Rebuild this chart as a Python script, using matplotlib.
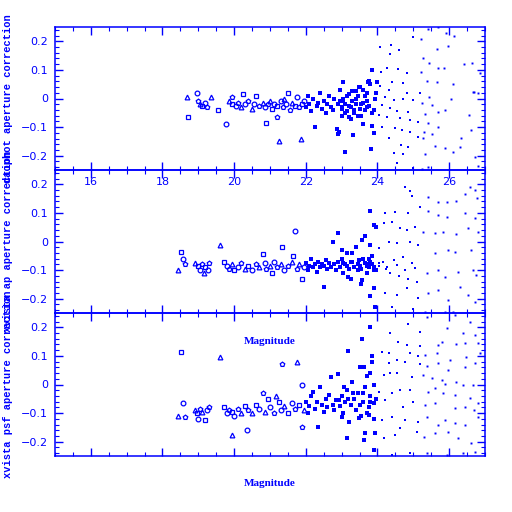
import matplotlib
matplotlib.use("Agg")
import matplotlib.pyplot as plt
from matplotlib.ticker import MultipleLocator

BLUE = (0, 0, 1)

# (magnitude, correction) pairs
top_bright = [(18.67, 0.005), (18.72, -0.065), (18.97, 0.02), (19.0, -0.01), (19.05, -0.02),
              (19.1, -0.025), (19.2, -0.015), (19.25, -0.03), (19.36, 0.005), (19.55, -0.04),
              (19.78, -0.09), (19.94, 0.005), (19.85, -0.01), (19.95, -0.02), (20.05, -0.025),
              (20.1, -0.015), (20.2, -0.03), (20.25, 0.015), (20.3, -0.02), (20.4, -0.01),
              (20.5, -0.035), (20.6, 0.01), (20.55, -0.02), (20.7, -0.025), (20.8, -0.015),
              (20.9, -0.085), (20.85, -0.03), (20.95, -0.02), (21.0, -0.01), (21.05, -0.035),
              (21.1, -0.02), (21.2, -0.065), (21.25, -0.15), (21.2, -0.025), (21.3, -0.01),
              (21.35, -0.03), (21.4, 0.0), (21.5, 0.02), (21.45, -0.02), (21.55, -0.04),
              (21.6, -0.015), (21.7, -0.025), (21.75, 0.005), (21.8, -0.03), (21.86, -0.14),
              (21.9, -0.02), (21.95, -0.01)]
top_mid = [(22.0, -0.03), (22.05, 0.01), (22.1, -0.02), (22.15, -0.045), (22.2, 0.0),
           (22.25, -0.1), (22.3, -0.025), (22.35, -0.015), (22.4, 0.02), (22.45, -0.035),
           (22.5, -0.01), (22.55, -0.05), (22.6, -0.02), (22.65, 0.01), (22.7, -0.03),
           (22.75, -0.04), (22.8, 0.0), (22.86, -0.105), (22.9, -0.125), (22.9, -0.02),
           (22.95, 0.03), (23.03, 0.058), (23.0, -0.035), (23.05, -0.01), (23.1, -0.05),
           (23.15, 0.01), (23.2, -0.025), (23.25, -0.07), (23.3, 0.025), (23.35, -0.04),
           (23.4, 0.0), (23.45, -0.06), (23.5, 0.04), (23.55, -0.02), (23.6, -0.09),
           (23.65, 0.01), (23.7, -0.03), (23.75, 0.06), (23.85, -0.05), (23.95, 0.02),
           (23.6, 0.03), (23.7, -0.01), (23.8, 0.05), (23.9, -0.04), (22.95, -0.01),
           (23.0, -0.03), (23.05, 0.0), (23.1, -0.02), (23.15, -0.045), (23.2, 0.015),
           (23.25, -0.03), (23.3, -0.01), (23.35, -0.05), (23.4, -0.02), (23.45, 0.01),
           (23.5, -0.035), (23.55, -0.06), (23.6, -0.015), (23.65, -0.04), (23.7, 0.02),
           (23.75, -0.025), (23.0, -0.06), (23.2, -0.065), (23.4, 0.025)]
top_faint = [(25.0, 0.216), (25.21, 0.207), (25.42, 0.242), (25.7, 0.249), (25.91, 0.23),
             (26.13, 0.219), (25.65, 0.174), (25.97, 0.184), (24.38, 0.187), (24.07, 0.179),
             (24.61, 0.17), (24.35, 0.155), (25.26, 0.143), (25.44, 0.123), (26.42, 0.121),
             (26.64, 0.125), (23.84, 0.10), (24.1, 0.094), (24.26, 0.105), (24.56, 0.102),
             (24.81, 0.09), (25.21, 0.094), (25.7, 0.105), (25.86, 0.105), (26.85, 0.088),
             (23.73, 0.059), (23.98, 0.059), (24.4, 0.059), (24.72, 0.053), (25.37, 0.061),
             (25.65, 0.059), (26.11, 0.05), (23.47, 0.041), (24.07, 0.044), (24.31, 0.03),
             (24.81, 0.02), (25.19, 0.018), (25.44, 0.004), (26.05, 0.0), (26.67, 0.024),
             (26.81, 0.018), (23.94, 0.0), (24.21, 0.006), (24.45, -0.005), (24.72, 0.0),
             (25.0, -0.005), (25.23, -0.017), (25.51, -0.023), (24.12, -0.023), (24.35, -0.034),
             (24.54, -0.042), (24.86, -0.046), (25.32, -0.054), (25.7, -0.046), (25.88, -0.04),
             (24.03, -0.058), (24.26, -0.063), (24.63, -0.069), (24.91, -0.075), (25.14, -0.081),
             (25.42, -0.087), (25.7, -0.098), (23.84, -0.096), (24.12, -0.098), (24.49, -0.104),
             (24.68, -0.11), (24.91, -0.116), (25.31, -0.116), (25.51, -0.124), (25.14, -0.133),
             (23.89, -0.119), (24.31, -0.139), (24.66, -0.164), (24.86, -0.168), (25.28, -0.139),
             (25.6, -0.166), (25.88, -0.174), (26.32, -0.139), (26.62, -0.11), (26.55, -0.058),
             (26.69, 0.024), (23.81, -0.178), (23.1, -0.186), (24.47, -0.19), (24.55, -0.224),
             (25.32, -0.194), (26.11, -0.186), (26.3, -0.171), (26.71, -0.203), (26.81, -0.236),
             (25.0, -0.244), (25.23, -0.247), (25.42, -0.238), (24.72, -0.195), (23.31, -0.128),
             (22.92, -0.116)]

mid_bright = [(18.44, -0.1), (18.53, -0.035), (18.56, -0.06), (18.64, -0.08), (18.9, -0.075),
              (19.0, -0.085), (19.05, -0.1), (19.1, -0.08), (19.15, -0.11), (19.2, -0.09),
              (19.28, -0.1), (19.3, -0.075), (19.6, -0.012), (19.72, -0.07), (19.8, -0.085),
              (19.85, -0.095), (19.95, -0.08), (20.0, -0.1), (20.1, -0.09), (20.2, -0.075),
              (20.3, -0.095), (20.4, -0.085), (20.5, -0.1), (20.6, -0.08), (20.7, -0.09),
              (20.8, -0.045), (20.85, -0.075), (20.9, -0.095), (21.0, -0.085), (21.05, -0.11),
              (21.1, -0.07), (21.2, -0.09), (21.3, -0.08), (21.33, -0.02), (21.4, -0.1),
              (21.5, -0.085), (21.6, -0.07), (21.64, -0.05), (21.7, 0.035), (21.75, -0.095),
              (21.8, -0.08), (21.9, -0.13), (21.95, -0.09)]
mid_mid = [(22.0, -0.075), (22.05, -0.1), (22.1, -0.085), (22.15, -0.06), (22.2, -0.09),
           (22.25, -0.08), (22.3, -0.105), (22.35, -0.07), (22.4, -0.09), (22.45, -0.08),
           (22.5, -0.16), (22.5, -0.085), (22.55, -0.065), (22.6, -0.095), (22.65, -0.075),
           (22.7, -0.09), (22.75, 0.0), (22.8, -0.08), (22.85, -0.1), (22.9, 0.03),
           (22.9, -0.07), (22.95, -0.09), (23.0, -0.06), (23.05, -0.11), (23.1, -0.08),
           (23.15, -0.04), (23.2, -0.095), (23.25, -0.13), (23.3, -0.07), (23.35, -0.09),
           (23.4, -0.02), (23.45, -0.1), (23.5, -0.085), (23.55, -0.15), (23.6, -0.06),
           (23.65, 0.02), (23.7, -0.11), (23.75, -0.08), (23.8, -0.19), (23.85, -0.05),
           (23.9, -0.1), (23.95, 0.05), (23.7, -0.085), (23.8, -0.07), (23.9, -0.09),
           (23.05, -0.075), (23.15, -0.085), (23.25, -0.07), (23.35, -0.09), (23.45, -0.08),
           (23.55, -0.095), (23.65, -0.075), (23.75, -0.09), (23.85, -0.08), (23.95, -0.1)]
mid_faint = [(24.91, 0.178), (24.97, 0.159), (24.77, 0.189), (25.42, 0.157), (25.7, 0.139),
             (25.93, 0.139), (26.2, 0.143), (26.44, 0.166), (26.57, 0.189), (26.71, 0.18),
             (26.79, 0.151), (25.19, 0.119), (24.86, 0.101), (24.21, 0.098), (24.49, 0.104),
             (23.8, 0.108), (25.42, 0.108), (25.7, 0.093), (25.93, 0.087), (26.44, 0.098),
             (26.71, 0.081), (23.89, 0.058), (24.17, 0.064), (24.4, 0.069), (24.63, 0.046),
             (24.81, 0.04), (25.05, 0.052), (25.28, 0.034), (25.6, 0.029), (25.83, 0.034),
             (26.2, 0.026), (26.53, 0.046), (26.81, 0.034), (23.57, 0.005), (23.8, -0.012),
             (24.03, -0.024), (24.31, 0.0), (24.54, -0.006), (24.91, 0.0), (25.14, -0.012),
             (25.6, -0.041), (25.97, -0.03), (26.16, -0.036), (26.62, -0.03), (23.01, -0.03),
             (23.29, -0.041), (23.47, -0.065), (23.75, -0.062), (24.03, -0.076), (24.26, -0.088),
             (24.54, -0.082), (24.77, -0.1), (25.05, -0.094), (25.37, -0.111), (25.7, -0.1),
             (25.88, -0.123), (26.25, -0.105), (26.67, -0.1), (26.76, -0.117), (23.19, -0.123),
             (23.57, -0.135), (23.89, -0.164), (24.21, -0.181), (24.54, -0.187), (24.81, -0.164),
             (25.14, -0.199), (25.42, -0.181), (25.7, -0.17), (25.97, -0.205), (26.3, -0.158),
             (26.53, -0.187), (26.71, -0.21), (23.94, -0.228), (24.4, -0.228), (25.32, -0.245),
             (25.88, -0.245), (26.11, -0.245), (25.0, -0.237), (24.05, -0.085), (24.15, -0.07),
             (24.25, -0.095), (24.35, -0.11), (24.45, -0.065), (24.6, -0.12), (24.7, -0.055),
             (24.85, -0.13), (24.95, -0.075), (25.1, -0.14)]

bot_bright = [(18.44, -0.11), (18.53, 0.115), (18.56, -0.065), (18.64, -0.115), (18.9, -0.09),
              (18.95, -0.1), (19.0, -0.12), (19.05, -0.085), (19.1, -0.095), (19.2, -0.125),
              (19.25, -0.09), (19.3, -0.08), (19.6, 0.095), (19.72, -0.08), (19.8, -0.1),
              (19.85, -0.09), (19.94, -0.175), (19.95, -0.095), (20.0, -0.11), (20.1, -0.085),
              (20.2, -0.1), (20.3, -0.075), (20.36, -0.16), (20.4, -0.09), (20.5, -0.1),
              (20.6, -0.07), (20.7, -0.085), (20.8, -0.03), (20.85, -0.095), (20.95, -0.05),
              (21.0, -0.08), (21.1, -0.1), (21.17, -0.04), (21.25, -0.06), (21.3, -0.09),
              (21.33, 0.07), (21.4, -0.075), (21.5, -0.1), (21.6, -0.065), (21.7, -0.085),
              (21.75, 0.08), (21.8, -0.07), (21.9, 0.0), (21.9, -0.15), (21.95, -0.09)]
bot_mid = [(22.0, -0.06), (22.05, -0.1), (22.1, -0.075), (22.15, -0.04), (22.2, -0.025),
           (22.25, -0.085), (22.3, -0.06), (22.35, -0.15), (22.4, -0.01), (22.45, -0.07),
           (22.5, -0.095), (22.55, -0.05), (22.6, -0.08), (22.65, -0.035), (22.7, 0.025),
           (22.75, -0.07), (22.8, -0.09), (22.85, -0.055), (22.9, 0.035), (22.95, -0.075),
           (23.0, -0.04), (23.05, -0.1), (23.1, -0.06), (23.15, -0.02), (23.2, -0.13),
           (23.25, -0.07), (23.3, 0.01), (23.35, -0.05), (23.4, -0.09), (23.45, -0.03),
           (23.5, 0.06), (23.55, -0.11), (23.6, -0.06), (23.65, -0.17), (23.7, 0.03),
           (23.75, -0.08), (23.8, -0.04), (23.85, 0.1), (23.9, -0.12), (23.95, -0.05),
           (23.6, -0.03), (23.7, -0.1), (23.8, -0.06), (23.9, 0.0)]
bot_faint = [(23.8, 0.2), (24.35, 0.179), (24.86, 0.212), (25.19, 0.185), (25.37, 0.237),
             (25.93, 0.196), (26.16, 0.243), (26.57, 0.22), (26.71, 0.173), (26.39, 0.179),
             (23.57, 0.158), (24.58, 0.15), (24.81, 0.138), (25.19, 0.135), (25.7, 0.138),
             (25.81, 0.15), (26.2, 0.142), (26.44, 0.144), (26.81, 0.144), (23.19, 0.118),
             (24.12, 0.115), (24.31, 0.109), (24.91, 0.111), (25.14, 0.1), (25.32, 0.103),
             (25.65, 0.111), (26.02, 0.085), (26.48, 0.097), (26.85, 0.109), (23.84, 0.08),
             (24.31, 0.074), (24.54, 0.086), (24.77, 0.08), (25.19, 0.072), (25.37, 0.065),
             (25.7, 0.074), (25.97, 0.051), (26.44, 0.062), (26.71, 0.074), (23.61, 0.062),
             (23.8, 0.041), (24.17, 0.033), (24.35, 0.039), (24.54, 0.041), (24.95, 0.027),
             (25.28, 0.033), (25.51, 0.022), (25.79, 0.016), (25.88, 0.002), (26.2, 0.01),
             (26.39, -0.002), (26.67, -0.002), (23.06, -0.008), (23.66, -0.01), (23.33, -0.031),
             (24.03, -0.025), (24.4, -0.031), (24.63, -0.019), (24.91, -0.019), (25.42, -0.025),
             (25.6, -0.013), (25.83, -0.031), (26.16, -0.037), (26.57, -0.048), (26.81, -0.066),
             (22.92, -0.054), (23.19, -0.052), (23.52, -0.072), (23.89, -0.066), (24.21, -0.054),
             (24.72, -0.077), (25.0, -0.06), (25.32, -0.072), (25.6, -0.066), (26.16, -0.083),
             (26.44, -0.077), (26.69, -0.089), (23.01, -0.112), (23.47, -0.118), (23.75, -0.107),
             (24.12, -0.124), (24.4, -0.112), (24.77, -0.124), (25.14, -0.13), (25.37, -0.112),
             (25.7, -0.142), (25.88, -0.124), (26.16, -0.136), (26.44, -0.142), (26.81, -0.112),
             (23.15, -0.188), (23.61, -0.194), (23.94, -0.17), (24.17, -0.188), (24.49, -0.176),
             (24.63, -0.153), (25.09, -0.165), (25.31, -0.182), (25.6, -0.17), (25.97, -0.165),
             (26.25, -0.188), (26.6, -0.206), (23.89, -0.229), (24.4, -0.246), (24.91, -0.24),
             (25.37, -0.24), (25.93, -0.246), (26.39, -0.24), (26.71, -0.235)]

ylabels = ["daophot aperture correction",
           "xvista ap aperture correction",
           "xvista psf aperture correction"]
xticks = [16, 18, 20, 22, 24, 26]
yticks = [-0.2, -0.1, 0, 0.1, 0.2]
ytick_labels = ["\u22120.2", "\u22120.1", "0", "0.1", "0.2"]

panels = [top_bright + top_mid + top_faint,
          mid_bright + mid_mid + mid_faint,
          bot_bright + bot_mid + bot_faint]

fig = plt.figure(figsize=(5.12, 5.12), dpi=100)
W, H = 512.0, 512.0
left, right = 55, 485
tops = [27, 170, 313]
ph = 143
shapes = ['^', 's', 'o', 'p']

for i, pts in enumerate(panels):
    ax = fig.add_axes([left / W, 1 - (tops[i] + ph) / H, (right - left) / W, ph / H])
    ax.patch.set_visible(False)
    ax.set_xlim(15, 27)
    ax.set_ylim(-0.25, 0.25)

    # symbol size shrinks with magnitude, like the original
    bright = [p for p in pts if p[0] < 22]
    mid = [p for p in pts if 22 <= p[0] < 24]
    near = [p for p in pts if 24 <= p[0] < 25.2]
    far = [p for p in pts if p[0] >= 25.2]
    for k, (m, c) in enumerate(bright):
        ax.plot(m, c, marker=shapes[k % 4], ms=3.4, mfc='none', mec=BLUE, mew=0.9,
                linestyle='none')
    for grp, ms in [(mid, 2.3), (near, 1.8), (far, 1.4)]:
        gm, gc = zip(*grp)
        ax.plot(gm, gc, 's', ms=ms, color=BLUE, mew=0, linestyle='none',
                antialiased=False)

    for sp in ax.spines.values():
        sp.set_color(BLUE)
        sp.set_linewidth(1.1)
    ax.xaxis.set_minor_locator(MultipleLocator(0.5))
    ax.yaxis.set_minor_locator(MultipleLocator(0.02))
    ax.set_yticks(yticks)
    ax.set_yticklabels(ytick_labels)
    ax.set_xticks(xticks)
    ax.tick_params(which='both', direction='in', top=True, right=True, color=BLUE,
                   labelcolor=BLUE, labelsize=8)
    ax.tick_params(which='major', length=6, width=1.0, pad=5)
    ax.tick_params(which='minor', length=3, width=0.8)
    if i == 0:
        ax.set_xticklabels([str(t) for t in xticks])
    else:
        ax.set_xticklabels([])
        ax.set_xlabel("Magnitude", color=BLUE, fontsize=8, fontweight='bold',
                      family='Liberation Serif')
        ax.xaxis.set_label_coords(0.5, -28.0 / ph)
        ax.xaxis.label.set_va('center')
    ax.set_ylabel(ylabels[i], color=BLUE, fontsize=7.5, family='Liberation Mono',
                  fontweight='bold')
    ax.yaxis.set_label_coords(-47.0 / (right - left), 0.5)
    ax.yaxis.label.set_va('center')

fig.savefig("out.png", dpi=100)
